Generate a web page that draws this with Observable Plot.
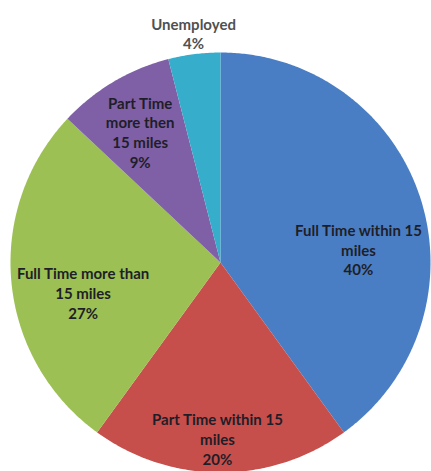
<!DOCTYPE html>
<html><head><meta charset="utf-8">
<script src="https://cdn.jsdelivr.net/npm/d3@7"></script>
<script src="https://cdn.jsdelivr.net/npm/@observablehq/plot@0.6"></script>
<style>html,body{margin:0;padding:0;background:#fff;overflow:hidden;}</style>
</head><body><div id="chart"></div>
<script>
// Data
const categories = ["Full Time within 15 miles", "Part Time within 15 miles", "Full Time more than 15 miles", "Part Time more then 15 miles", "Unemployed"];
const values = [40, 20, 27, 9, 4];
const labelLines = ["Full Time within 15\nmiles", "Part Time within 15\nmiles", "Full Time more than\n15 miles", "Part Time\nmore then\n15 miles", "Unemployed"];
const colors = ["#4A7EC4", "#C64F4C", "#9CC053", "#7F60A6", "#36ADCB"];

// Layout (label placement: radial fraction and angular nudge, degrees)
const labelRadius = [0.66, 0.84, 0.67, 0.73, 1.1];
const labelNudge = [12.5, 1, -7, -1, 0.5];

const total = d3.sum(values);
const slices = [];
let acc = 0;
values.forEach((v, i) => {
  const a0 = acc / total * 360, a1 = (acc + v) / total * 360;
  acc += v;
  slices.push({name: categories[i], a0, a1, i});
});
const rad = d => d * Math.PI / 180;
const pts = [];
slices.forEach(s => {
  pts.push({name: s.name, x: 0, y: 0});
  const n = Math.max(2, Math.ceil((s.a1 - s.a0) * 2));
  for (let k = 0; k <= n; k++) {
    const a = rad(s.a0 + (s.a1 - s.a0) * k / n);
    pts.push({name: s.name, x: Math.sin(a), y: Math.cos(a)});
  }
  pts.push({name: s.name, x: 0, y: 0});
});
const labels = slices.map(s => {
  const a = rad((s.a0 + s.a1) / 2 + labelNudge[s.i]);
  const r = labelRadius[s.i];
  return {name: s.name, x: r * Math.sin(a), y: r * Math.cos(a), text: labelLines[s.i] + "\n" + values[s.i] + "%", outside: r > 1};
});

const chart = Plot.plot({
  width: 431, height: 471,
  margin: 0,
  style: {background: "#fff", fontFamily: "Lato, sans-serif"},
  x: {domain: [-1, 1], range: [10, 430], axis: null},
  y: {domain: [-1, 1], range: [472, 52], axis: null},
  color: {domain: categories, range: colors},
  marks: [
    Plot.line(pts, {x: "x", y: "y", z: "name", fill: "name", stroke: "none", curve: "linear"}),
    Plot.text(labels, {x: "x", y: "y", text: "text", fill: d => d.outside ? "#505050" : "#1e1e28",
      fontSize: 15, fontWeight: 700, lineHeight: 1.32, textAnchor: "middle"})
  ]
});
document.getElementById("chart").appendChild(chart);
</script>
</body></html>
